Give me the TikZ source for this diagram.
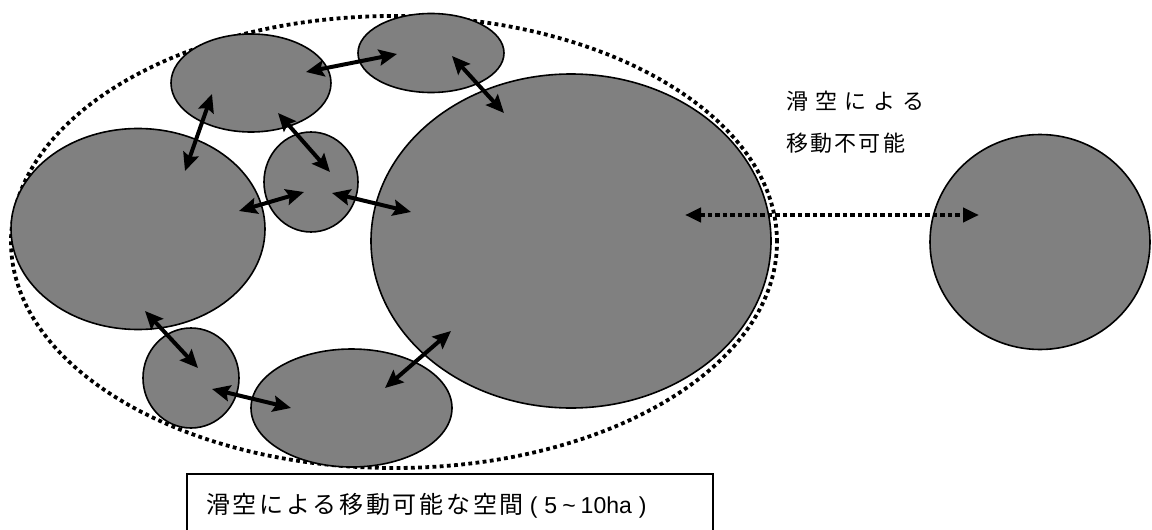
\documentclass[tikz,border=0pt]{standalone}
\usepackage{fontspec}
\usetikzlibrary{shapes.geometric,arrows.meta}
\newfontfamily\jp{Noto Sans CJK JP}
\newfontfamily\jpwide[LetterSpace=33]{Noto Sans CJK JP}
\newfontfamily\jpmid[LetterSpace=10]{Noto Sans CJK JP}
\newfontfamily\jpbox[LetterSpace=11.5]{Noto Sans CJK JP}
\newfontfamily\latin{Liberation Sans}
\tikzset{
  blob/.style={ellipse, draw=black, line width=1.6pt, fill={rgb,255:red,128;green,128;blue,128}, inner sep=0pt, outer sep=0pt},
  link/.style={line width=4pt, {Stealth[length=18pt,width=16pt,inset=3pt]}-{Stealth[length=18pt,width=16pt,inset=3pt]}},
  nolink/.style={line width=4.5pt, dash pattern=on 4.5pt off 3pt, {Triangle[length=16pt,width=14pt]}-{Triangle[length=16pt,width=14pt]}},
  zone/.style={ellipse, draw=black, line width=3.8pt, dash pattern=on 3.8pt off 3.4pt, inner sep=0pt, outer sep=0pt},
  txt/.style={anchor=west, inner sep=0pt, font=\jp\fontsize{22pt}{26pt}\selectfont}
}
\begin{document}
\begin{tikzpicture}[x=1pt,y=-1pt]
\useasboundingbox (0,0) rectangle (1152,530);
% outer dotted zone
\node[zone, minimum width=766, minimum height=452] (Z) at (394,242) {};
% areas
\node[blob, minimum width=160, minimum height=98] (A) at (251,83) {};
\node[blob, minimum width=146, minimum height=79] (B) at (431,53) {};
\node[blob, minimum width=254, minimum height=201] (C) at (138,229) {};
\node[blob, minimum width=94, minimum height=100] (D) at (311,182) {};
\node[blob, minimum width=400, minimum height=334] (E) at (571,241) {};
\node[blob, minimum width=96, minimum height=100] (F) at (191,378) {};
\node[blob, minimum width=201, minimum height=118] (G) at (351.5,408) {};
\node[blob, minimum width=220, minimum height=215] (H) at (1040,242) {};
% arrow end points
\coordinate (ab1) at (306,72);
\coordinate (ab2) at (397,54);
\coordinate (be1) at (452,56);
\coordinate (be2) at (504,113);
\coordinate (ac1) at (212,94);
\coordinate (ac2) at (185,171);
\coordinate (ad1) at (278,113);
\coordinate (ad2) at (330,172);
\coordinate (cd1) at (239,211);
\coordinate (cd2) at (304,192);
\coordinate (de1) at (332,193);
\coordinate (de2) at (411,212);
\coordinate (cf1) at (145,311);
\coordinate (cf2) at (198,368);
\coordinate (fg1) at (212,389);
\coordinate (fg2) at (291,408);
\coordinate (ge1) at (385,388);
\coordinate (ge2) at (451,331);
\coordinate (eh1) at (685,215);
\coordinate (eh2) at (979,215);
\draw[link] (ab1) -- (ab2);
\draw[link] (be1) -- (be2);
\draw[link] (ac1) -- (ac2);
\draw[link] (ad1) -- (ad2);
\draw[link] (cd1) -- (cd2);
\draw[link] (de1) -- (de2);
\draw[link] (cf1) -- (cf2);
\draw[link] (fg1) -- (fg2);
\draw[link] (ge1) -- (ge2);
\draw[nolink] (eh1) -- (eh2);
% labels
\node[txt, font=\jpwide\fontsize{22pt}{26pt}\selectfont] (t1) at (786,101) {滑空による};
\node[txt, font=\jpmid\fontsize{22pt}{26pt}\selectfont] (t2) at (786,143) {移動不可能};
\node[draw=black, line width=1.6pt, anchor=north west, minimum width=526, minimum height=80, inner sep=0pt] (box) at (186,473) {};
\node[txt, font=\jpbox\fontsize{24pt}{28pt}\selectfont] (t3) at (206,506) {滑空による移動可能な空間{\latin\fontsize{23pt}{26pt}\selectfont\hspace{6pt}(\hspace{7pt}5\hspace{5pt}{\char"7E}\hspace{5pt}10ha\hspace{7pt})}};
\end{tikzpicture}
\end{document}
